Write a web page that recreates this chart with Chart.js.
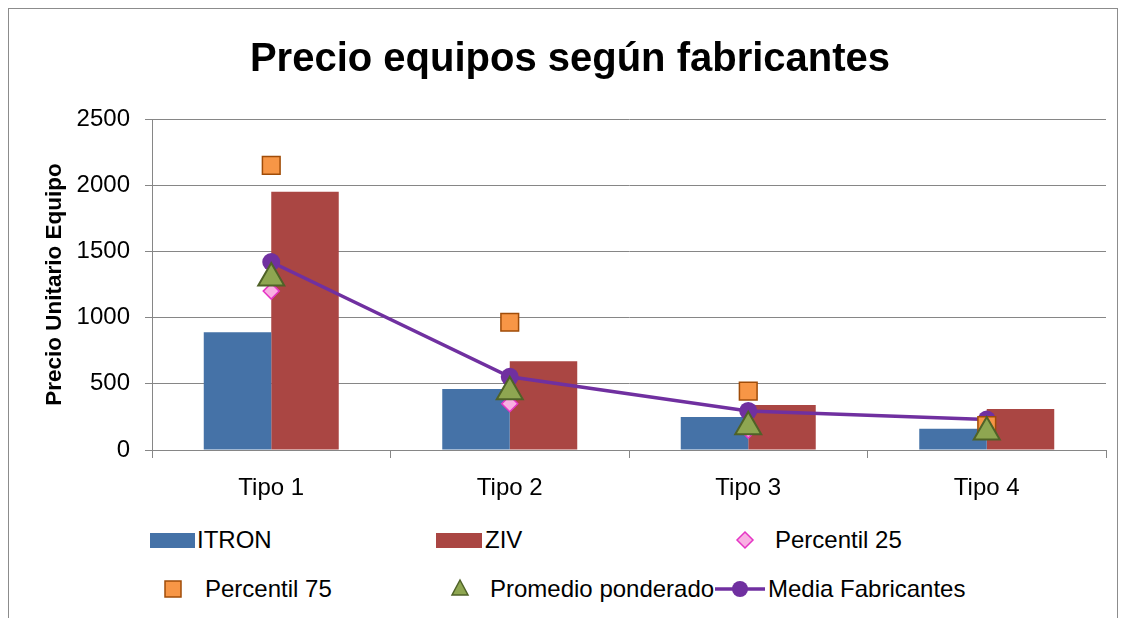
<!DOCTYPE html>
<html>
<head>
<meta charset="utf-8">
<script src="https://cdn.jsdelivr.net/npm/chart.js@4.4.1/dist/chart.umd.min.js"></script>
<style>
  body { margin: 0; background: #fff; font-family: "Liberation Sans", Arial, sans-serif; }
  #frame { position: absolute; left: 8px; top: 8px; width: 1108px; height: 640px; border: 1px solid #8c8c8c; }
  #wrap { position: absolute; left: 0; top: 0; width: 1127px; height: 510px; }
  .lg { position: absolute; font-size: 24px; color: #000; line-height: 28px; white-space: nowrap; }
  .sym { position: absolute; }
</style>
</head>
<body>
<div id="frame"></div>
<div id="wrap"><canvas id="grafico"></canvas></div>

<div class="sym" style="left:150px;top:533px;width:45px;height:15px;background:#4572a7"></div>
<div class="lg" style="left:197px;top:526px">ITRON</div>
<div class="sym" style="left:436px;top:533px;width:46px;height:15px;background:#aa4643"></div>
<div class="lg" style="left:485px;top:526px">ZIV</div>
<svg class="sym" style="left:735px;top:530px" width="20" height="20"><path d="M10 2 L18 10 L10 18 L2 10 Z" fill="#f9b0e3" stroke="#e535c4" stroke-width="1.5"/></svg>
<div class="lg" style="left:775px;top:526px">Percentil 25</div>

<svg class="sym" style="left:163px;top:579px" width="20" height="20"><rect x="2" y="2" width="16" height="16" fill="#f79646" stroke="#a04c08" stroke-width="1.5"/></svg>
<div class="lg" style="left:205px;top:575px">Percentil 75</div>
<svg class="sym" style="left:450px;top:578px" width="20" height="20"><path d="M10 2 L18 17 L2 17 Z" fill="#8ea651" stroke="#4f6228" stroke-width="1.5"/></svg>
<div class="lg" style="left:490px;top:575px">Promedio ponderado</div>
<svg class="sym" style="left:714px;top:578px" width="52" height="22"><line x1="1" y1="11" x2="51" y2="11" stroke="#7030a0" stroke-width="3.5"/><circle cx="26" cy="11" r="8" fill="#7030a0"/></svg>
<div class="lg" style="left:768px;top:575px">Media Fabricantes</div>

<script>
const categorias = ['Tipo 1', 'Tipo 2', 'Tipo 3', 'Tipo 4'];
const itron = [890, 460, 250, 160];
const ziv = [1950, 670, 340, 310];
const percentil25 = [1200, 350, 150, 150];
const percentil75 = [2150, 965, 445, 185];
const promedio = [1300, 440, 176, 136];
const media = [1420, 553, 295, 230];
const ticksY = [0, 500, 1000, 1500, 2000, 2500];

const fuente = '"Liberation Sans", Arial, sans-serif';
const gris = '#868686';

new Chart(document.getElementById('grafico'), {
    data: {
        labels: categorias,
        datasets: [
            { type: 'bar', label: 'ITRON', data: itron, backgroundColor: '#4572a7', order: 10 },
            { type: 'bar', label: 'ZIV', data: ziv, backgroundColor: '#aa4643', order: 10 },
            { type: 'line', label: 'Percentil 25', data: percentil25, showLine: false,
              pointStyle: 'rectRot', pointRadius: 8, backgroundColor: '#f9b0e3', borderColor: '#e535c4', borderWidth: 1.5, order: 4 },
            { type: 'line', label: 'Percentil 75', data: percentil75, showLine: false,
              pointStyle: 'rect', pointRadius: 12.5, backgroundColor: '#f79646', borderColor: '#a04c08', borderWidth: 1.5, order: 3 },
            { type: 'line', label: 'Promedio ponderado', data: promedio, showLine: false,
              pointStyle: 'triangle', pointRadius: 15, backgroundColor: '#8ea651', borderColor: '#4f6228', borderWidth: 2, order: 1 },
            { type: 'line', label: 'Media Fabricantes', data: media, borderColor: '#7030a0', borderWidth: 3.5,
              pointStyle: 'circle', pointRadius: 9, backgroundColor: '#7030a0', pointBorderWidth: 0, order: 5 }
        ]
    },
    options: {
        responsive: true,
        maintainAspectRatio: false,
        animation: false,
        layout: { padding: { left: 34, right: 21, top: 0, bottom: 0 } },
        categoryPercentage: 0.566,
        barPercentage: 1,
        plugins: {
            legend: { display: false },
            tooltip: { enabled: false },
            title: {
                display: true,
                text: 'Precio equipos según fabricantes',
                color: '#000',
                font: { family: fuente, size: 40, weight: 'bold' },
                padding: { top: 36, bottom: 35 }
            }
        },
        scales: {
            x: {
                afterFit: s => { s.height = 60; },
                grid: { offset: true, drawOnChartArea: false, drawTicks: true, tickLength: 8, color: gris },
                border: { display: true, color: gris, width: 1 },
                ticks: { color: '#000', font: { family: fuente, size: 24 }, padding: 16 }
            },
            y: {
                min: 0,
                max: 2500,
                afterFit: s => { s.width = 118; },
                afterBuildTicks: s => { s.ticks = ticksY.map(v => ({ value: v })); },
                grid: { color: gris, tickLength: 7 },
                border: { display: true, color: gris, width: 1 },
                ticks: { color: '#000', font: { family: fuente, size: 24 }, padding: 15, callback: v => String(v) },
                title: {
                    display: true,
                    text: 'Precio Unitario Equipo',
                    color: '#000',
                    font: { family: fuente, size: 22.5, weight: 'bold' },
                    padding: { top: 7, bottom: 0 }
                }
            }
        }
    }
});
</script>
</body>
</html>
